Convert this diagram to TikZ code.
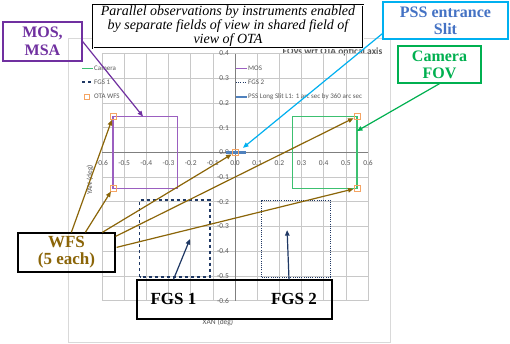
\documentclass[tikz,border=0pt]{standalone}
\usepackage{fontspec}
\setmainfont{Liberation Serif}
\newfontfamily\chartfont{Carlito}
\usetikzlibrary{arrows.meta,calc}
\definecolor{mospurple}{HTML}{7030A0}
\definecolor{moschart}{HTML}{9B5FC0}
\definecolor{camgreen}{HTML}{00B050}
\definecolor{camchart}{HTML}{3CC070}
\definecolor{fgsnavy}{HTML}{1F3864}
\definecolor{wfsorange}{HTML}{F5A463}
\definecolor{pssblue}{HTML}{4F81BD}
\definecolor{pssarrow}{HTML}{00B0F0}
\definecolor{psstext}{HTML}{4472C4}
\definecolor{wfsbrown}{HTML}{8B6508}
\definecolor{gridgray}{HTML}{C8C8C8}
\definecolor{axisgray}{HTML}{7F7F7F}
\definecolor{labelgray}{HTML}{595959}
\definecolor{framegray}{HTML}{D9D9D9}
\tikzset{
  gridline/.style={draw=gridgray, line width=0.5pt},
  axisline/.style={draw=axisgray, line width=0.8pt},
  ticklab/.style={font=\chartfont\fontsize{7.5}{8}\selectfont, text=labelgray, inner sep=0pt},
  legtext/.style={font=\chartfont\fontsize{7}{8}\selectfont, text=labelgray, anchor=west, inner sep=0pt},
  callout/.style={draw, line width=1.3pt, align=center, inner sep=0pt,
    font=\bfseries\fontsize{16}{17}\selectfont},
  wfsmark/.style={draw=wfsorange, line width=0.8pt, minimum size=6pt, inner sep=0pt},
  tipA/.style={-{Triangle[length=5.5pt,width=4.5pt]}},
  wfsarrow/.style={draw=wfsbrown, line width=1.2pt, tipA},
}
\begin{document}
\begin{tikzpicture}[x=1pt,y=-1pt]
\useasboundingbox (0,0) rectangle (510,343);
\fill[white] (0,0) rectangle (510,343);
% chart frame
\draw[draw=framegray, line width=0.6pt] (68,38) rectangle (390,342);
% chart title and axis titles
\node[font=\chartfont\bfseries\fontsize{9.5}{10}\selectfont, text=labelgray, inner sep=0pt] (ctitle) at (332.5,51.5) {FOVs wrt OTA optical axis};
\node[font=\chartfont\fontsize{7.5}{8}\selectfont, text=labelgray, inner sep=0pt, rotate=90] (ytitle) at (90,180) {YAN (deg)};
\node[font=\chartfont\fontsize{7.5}{8}\selectfont, text=labelgray, inner sep=0pt] (xtitle) at (218,322.5) {XAN (deg)};

\begin{scope}[shift={(235,152.3)}, x=221.7pt, y=247pt]
  \foreach \i in {-6,...,6} \draw[gridline] (\i*0.1,-0.6) -- (\i*0.1,0.4);
  \foreach \j in {-6,...,4} \draw[gridline] (-0.6,\j*0.1) -- (0.6,\j*0.1);
  \draw[axisline] (-0.6,0) -- (0.6,0);
  \draw[axisline] (0,-0.6) -- (0,0.4);
  \foreach \v/\t [count=\k] in {-0.6/-0.6,-0.5/-0.5,-0.4/-0.4,-0.3/-0.3,-0.2/-0.2,-0.1/-0.1,0/0.0,0.1/0.1,0.2/0.2,0.3/0.3,0.4/0.4,0.5/0.5,0.6/0.6}
    \node[ticklab] (xt\k) at (\v,-0.043) {\t};
  \foreach \v/\t [count=\k] in {0.4/0.4,0.3/0.3,0.2/0.2,0.1/0.1,0/0.0,-0.1/-0.1,-0.2/-0.2,-0.3/-0.3,-0.4/-0.4,-0.5/-0.5,-0.6/-0.6}
    \node[ticklab, anchor=east] (yt\k) at (-0.027,\v) {\t};
  % instrument fields
  \draw[moschart, line width=1.2pt] (-0.55,-0.145) rectangle (-0.26,0.145);
  \draw[camchart, line width=1.2pt] (0.26,-0.145) rectangle (0.55,0.145);
  \draw[fgsnavy, line width=1.2pt, dash pattern=on 3.5pt off 2.5pt] (-0.43,-0.505) rectangle (-0.113,-0.193);
  \draw[fgsnavy, line width=0.9pt, dash pattern=on 1pt off 1.2pt] (0.12,-0.505) rectangle (0.43,-0.193);
  \draw[pssblue, line width=2.6pt] (-0.04,0) -- (0.05,0);
  % WFS markers
  \node[wfsmark] (m1) at (-0.55,0.145) {};
  \node[wfsmark] (m2) at (-0.55,-0.145) {};
  \node[wfsmark] (m3) at (0,0) {};
  \node[wfsmark] (m4) at (0.55,0.145) {};
  \node[wfsmark] (m5) at (0.55,-0.145) {};
  % arrow ends
  \coordinate (mosend) at (-0.415,0.145);
  \coordinate (pssend) at (0.036,0.018);
  \coordinate (camend) at (0.55,0.086);
  \coordinate (fgsoneend) at (-0.203,-0.351);
  \coordinate (fgstwoend) at (0.235,-0.315);
\end{scope}

% legend
\draw[camchart, line width=1.2pt] (82,68.3) -- (93,68.3);
\node[legtext] (lcam) at (94,68.3) {Camera};
\draw[fgsnavy, line width=1.2pt, dash pattern=on 3pt off 3pt] (82,82) -- (93,82);
\node[legtext] (lfgs1) at (94,82) {FGS 1};
\node[wfsmark, minimum size=5pt] (lwfsm) at (87,96.7) {};
\node[legtext] (lwfs) at (94,96.7) {OTA WFS};
\draw[moschart, line width=1.2pt] (236,68.3) -- (247,68.3);
\node[legtext] (lmos) at (248,68.3) {MOS};
\draw[fgsnavy, line width=0.9pt, dash pattern=on 1pt off 1.2pt] (236,82) -- (247,82);
\node[legtext] (lfgs2) at (248,82) {FGS 2};
\draw[pssblue, line width=2.2pt] (236,96.7) -- (247,96.7);
\node[legtext] (lpss) at (248,96.7) {PSS Long Slit L1: 1 arc sec by 360 arc sec};

% title box
\node[draw, double, double distance=1pt, line width=0.8pt, fill=white, align=center,
  minimum width=270pt, minimum height=43pt, inner sep=0pt,
  font=\itshape\fontsize{14}{12}\selectfont] (title) at (228,26.5)
  {Parallel observations by instruments enabled\\by separate fields of view in shared field of\\view of OTA};

% callouts
\node[callout, draw=mospurple, text=mospurple, minimum width=79pt, minimum height=39pt,
  font=\bfseries\fontsize{16}{18}\selectfont] (mos) at (42.5,41.5) {MOS,\\MSA};
\node[callout, draw=pssarrow, text=psstext, minimum width=125pt, minimum height=37pt] (pss) at (445.5,20.5) {PSS entrance\\Slit};
\node[callout, draw=camgreen, text=camgreen, minimum width=83pt, minimum height=37pt] (cam) at (439.5,64.5) {Camera\\FOV};
\node[callout, draw=black, text=wfsbrown, minimum width=97pt, minimum height=39pt,
  font=\bfseries\fontsize{17}{17}\selectfont] (wfs) at (66.5,252.5) {WFS\\(5 each)};
\node[draw=black, line width=1.3pt, minimum width=195pt, minimum height=39pt, inner sep=0pt] (fgsbox) at (234.5,299.5) {};
\node[font=\bfseries\fontsize{17}{18}\selectfont, inner sep=0pt] (fgsone) at (173.5,299) {FGS 1};
\node[font=\bfseries\fontsize{17}{18}\selectfont, inner sep=0pt] (fgstwo) at (294,299) {FGS 2};

% connectors
\draw[mospurple, line width=1.2pt, tipA] (mos.east) -- (mosend);
\draw[pssarrow, line width=1.2pt, tipA] ($(pss.south west)+(0,-6)$) -- (pssend);
\draw[camgreen, line width=1.2pt, tipA] (cam.south) -- (camend);
\draw[wfsarrow] ($(wfs.north west)+(54,0)$) -- (m1);
\draw[wfsarrow] ($(wfs.north west)+(68,0)$) -- (m2);
\draw[wfsarrow] ($(wfs.north west)+(85,0)$) -- (m3);
\draw[wfsarrow] ($(wfs.north east)+(0,4)$) -- (m4);
\draw[wfsarrow] ($(wfs.north east)+(1,15)$) -- (m5);
\draw[fgsnavy, line width=1.2pt, tipA] (fgsone |- fgsbox.north) -- (fgsoneend);
\draw[fgsnavy, line width=1.2pt, tipA] ($(fgstwo |- fgsbox.north)+(-5,0)$) -- (fgstwoend);
\end{tikzpicture}
\end{document}
